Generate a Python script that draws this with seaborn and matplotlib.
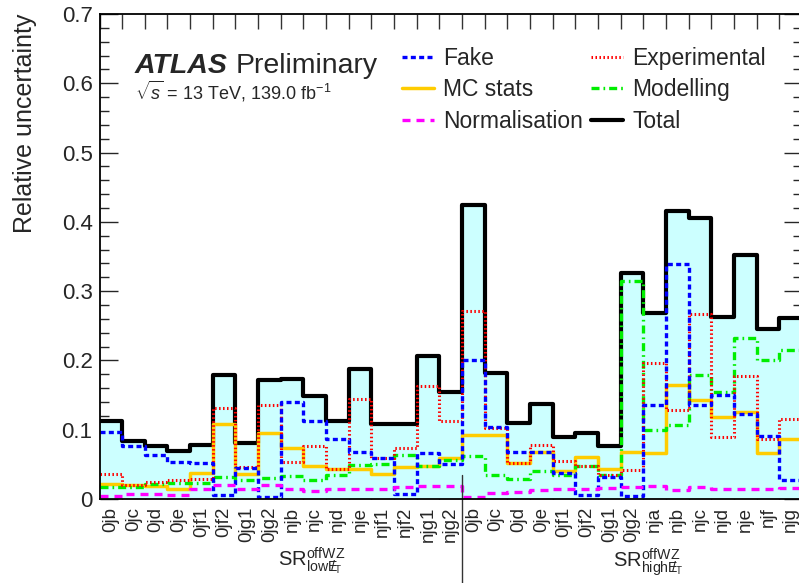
import numpy as np
import pandas as pd
import matplotlib
matplotlib.use("Agg")
import matplotlib.pyplot as plt
import matplotlib.transforms as mtransforms
from matplotlib.ticker import FixedLocator, MultipleLocator, FuncFormatter
import seaborn as sns

# ---------------- data ----------------
bin_labels = ['0jb', '0jc', '0jd', '0je', '0jf1', '0jf2', '0jg1', '0jg2',
              'njb', 'njc', 'njd', 'nje', 'njf1', 'njf2', 'njg1', 'njg2',
              '0jb', '0jc', '0jd', '0je', '0jf1', '0jf2', '0jg1', '0jg2',
              'nja', 'njb', 'njc', 'njd', 'nje', 'njf', 'njg']

total = [0.112, 0.084, 0.076, 0.069, 0.078, 0.179, 0.081, 0.172,
         0.173, 0.149, 0.113, 0.188, 0.108, 0.108, 0.206, 0.155,
         0.424, 0.182, 0.110, 0.137, 0.090, 0.095, 0.076, 0.326,
         0.268, 0.415, 0.405, 0.262, 0.352, 0.246, 0.261]

fake = [0.097, 0.076, 0.063, 0.053, 0.052, 0.006, 0.045, 0.003,
        0.140, 0.112, 0.086, 0.068, 0.059, 0.007, 0.067, 0.051,
        0.200, 0.104, 0.068, 0.068, 0.037, 0.006, 0.032, 0.005,
        0.135, 0.339, 0.135, 0.150, 0.122, 0.091, 0.028]

experimental = [0.036, 0.020, 0.024, 0.027, 0.029, 0.132, 0.046, 0.136,
                0.053, 0.076, 0.044, 0.144, 0.059, 0.073, 0.163, 0.113,
                0.272, 0.103, 0.052, 0.078, 0.055, 0.048, 0.035, 0.042,
                0.197, 0.128, 0.267, 0.090, 0.178, 0.087, 0.116]

mc_stats = [0.021, 0.020, 0.019, 0.015, 0.038, 0.108, 0.036, 0.095,
            0.073, 0.047, 0.044, 0.043, 0.036, 0.046, 0.047, 0.059,
            0.093, 0.093, 0.052, 0.068, 0.041, 0.060, 0.043, 0.068,
            0.067, 0.165, 0.143, 0.119, 0.126, 0.067, 0.086]

modelling = [0.018, 0.018, 0.021, 0.023, 0.023, 0.032, 0.027, 0.031,
             0.033, 0.027, 0.034, 0.049, 0.050, 0.063, 0.047, 0.057,
             0.062, 0.034, 0.029, 0.041, 0.035, 0.048, 0.034, 0.315,
             0.100, 0.107, 0.179, 0.155, 0.232, 0.200, 0.215]

normalisation = [0.005, 0.007, 0.007, 0.006, 0.015, 0.020, 0.015, 0.020,
                 0.015, 0.012, 0.014, 0.015, 0.015, 0.018, 0.019, 0.019,
                 0.003, 0.008, 0.010, 0.013, 0.014, 0.015, 0.016, 0.018,
                 0.019, 0.013, 0.018, 0.014, 0.014, 0.014, 0.016]

group_labels = [r'SR$^{\mathrm{offWZ}}_{\mathrm{low}\mathrm{E}\!\!\!/_{\mathrm{T}}}$',
                r'SR$^{\mathrm{offWZ}}_{\mathrm{high}\mathrm{E}\!\!\!/_{\mathrm{T}}}$']
n_low = 16

# ---------------- style ----------------
sns.set_theme(style="ticks")
plt.rcParams['font.family'] = ['Liberation Sans', 'DejaVu Sans']
plt.rcParams['mathtext.fontset'] = 'custom'
plt.rcParams['mathtext.rm'] = 'Liberation Sans'
plt.rcParams['mathtext.it'] = 'Liberation Sans:italic'
plt.rcParams['mathtext.bf'] = 'Liberation Sans:bold'

W, H = 799, 583
fig = plt.figure(figsize=(W / 100, H / 100), dpi=100)
fig.patch.set_facecolor('white')

ax_l, ax_r, ax_t, ax_b = 99.5, 801.9, 14, 499
ax = fig.add_axes([ax_l / W, 1 - ax_b / H, (ax_r - ax_l) / W, (ax_b - ax_t) / H])
ax.set_facecolor('white')

nb = len(bin_labels)
edges = [float(e) for e in range(nb + 1)]
centers = [i + 0.5 for i in range(nb)]
df = pd.DataFrame({'center': centers, 'total': total, 'fake': fake,
                   'experimental': experimental, 'mc_stats': mc_stats,
                   'modelling': modelling, 'normalisation': normalisation})

# filled total band
sns.histplot(data=df, x='center', weights='total', bins=edges, element='step',
             fill=True, color='#ccffff', alpha=1, linewidth=0, ax=ax)
# total outline
sns.histplot(data=df, x='center', weights='total', bins=edges, element='step',
             fill=False, color='black', linewidth=3.0, ax=ax)
h_total = ax.lines[-1]

styles = [
    ('mc_stats', '#ffcc00', '-', 2.5),
    ('modelling', '#00ee00', (0, (2.4, 1.2, 0.5, 1.2)), 2.4),
    ('experimental', '#ff0000', (0, (0.5, 0.8)), 2.2),
    ('fake', '#0000ff', (0, (1.5, 1.0)), 2.4),
    ('normalisation', '#ff00ff', (0, (2.4, 1.8)), 2.4),
]
handles = {}
for col, c, ls, lw in styles:
    sns.histplot(data=df, x='center', weights=col, bins=edges,
                 element='step', fill=False, color=c, linestyle=ls,
                 linewidth=lw, ax=ax)
    handles[col] = ax.lines[-1]

ax.set_xlim(0, nb)
ax.set_ylim(0, 0.7)

# ticks
ax.xaxis.set_major_locator(FixedLocator(edges))
ax.xaxis.set_major_formatter(FuncFormatter(lambda v, p: ''))
ax.set_xticks(centers, minor=True)
ax.set_xticklabels(bin_labels, minor=True, rotation=90, fontsize=13.5)
ax.tick_params(axis='x', which='major', direction='in', length=11, width=1,
               top=True, bottom=True, color='#333333')
ax.tick_params(axis='x', which='minor', length=0, pad=5.5)

ax.yaxis.set_major_locator(MultipleLocator(0.1))
ax.yaxis.set_minor_locator(MultipleLocator(0.02))
ax.yaxis.set_major_formatter(FuncFormatter(lambda v, p: '0' if abs(v) < 1e-9 else f'{v:.1f}'))
ax.tick_params(axis='y', which='major', direction='in', length=13, width=1,
               left=True, right=True, labelsize=16, pad=5)
ax.tick_params(axis='y', which='minor', direction='in', length=6.5, width=1,
               left=True, right=True)

for s in ax.spines.values():
    s.set_color('black')
    s.set_linewidth(1.3)

ax.set_xlabel('')
ax.set_ylabel('Relative uncertainty', loc='top', fontsize=18, labelpad=18)

# divider between the two regions
trans = mtransforms.blended_transform_factory(ax.transData, ax.transAxes)
ax.plot([n_low, n_low], [(ax_b - 475) / (ax_b - ax_t), -(H - ax_b) / (ax_b - ax_t)],
        transform=trans, color='#333333', lw=1.0, clip_on=False)

# group labels
fig.text(278 / W, 1 - 567 / H, group_labels[0], fontsize=14.5, ha='left', va='baseline')
fig.text(613 / W, 1 - 567 / H, group_labels[1], fontsize=14.5, ha='left', va='baseline')

# ATLAS label
fig.text(135 / W, 1 - 73 / H, 'ATLAS', fontsize=20.5, fontweight='bold',
         fontstyle='italic', ha='left', va='baseline')
fig.text(236 / W, 1 - 73 / H, 'Preliminary', fontsize=20.5, ha='left', va='baseline')
fig.text(135 / W, 1 - 100 / H, r'$\sqrt{s}$ = 13 TeV, 139.0 fb$^{-1}$', fontsize=13,
         ha='left', va='baseline')

# legend
order = [handles['fake'], handles['mc_stats'], handles['normalisation'],
         handles['experimental'], handles['modelling'], h_total]
names = ['Fake', 'MC stats', 'Normalisation', 'Experimental', 'Modelling', 'Total']
leg = ax.legend(order, names, loc='upper left', ncol=2,
                bbox_to_anchor=(402 / W, 1 - 47 / H), bbox_transform=fig.transFigure,
                frameon=False, fontsize=16.5, handlelength=1.4, handletextpad=0.4,
                columnspacing=0.35, labelspacing=0.37, borderpad=0, borderaxespad=0)

fig.savefig('out.png', dpi=100)
